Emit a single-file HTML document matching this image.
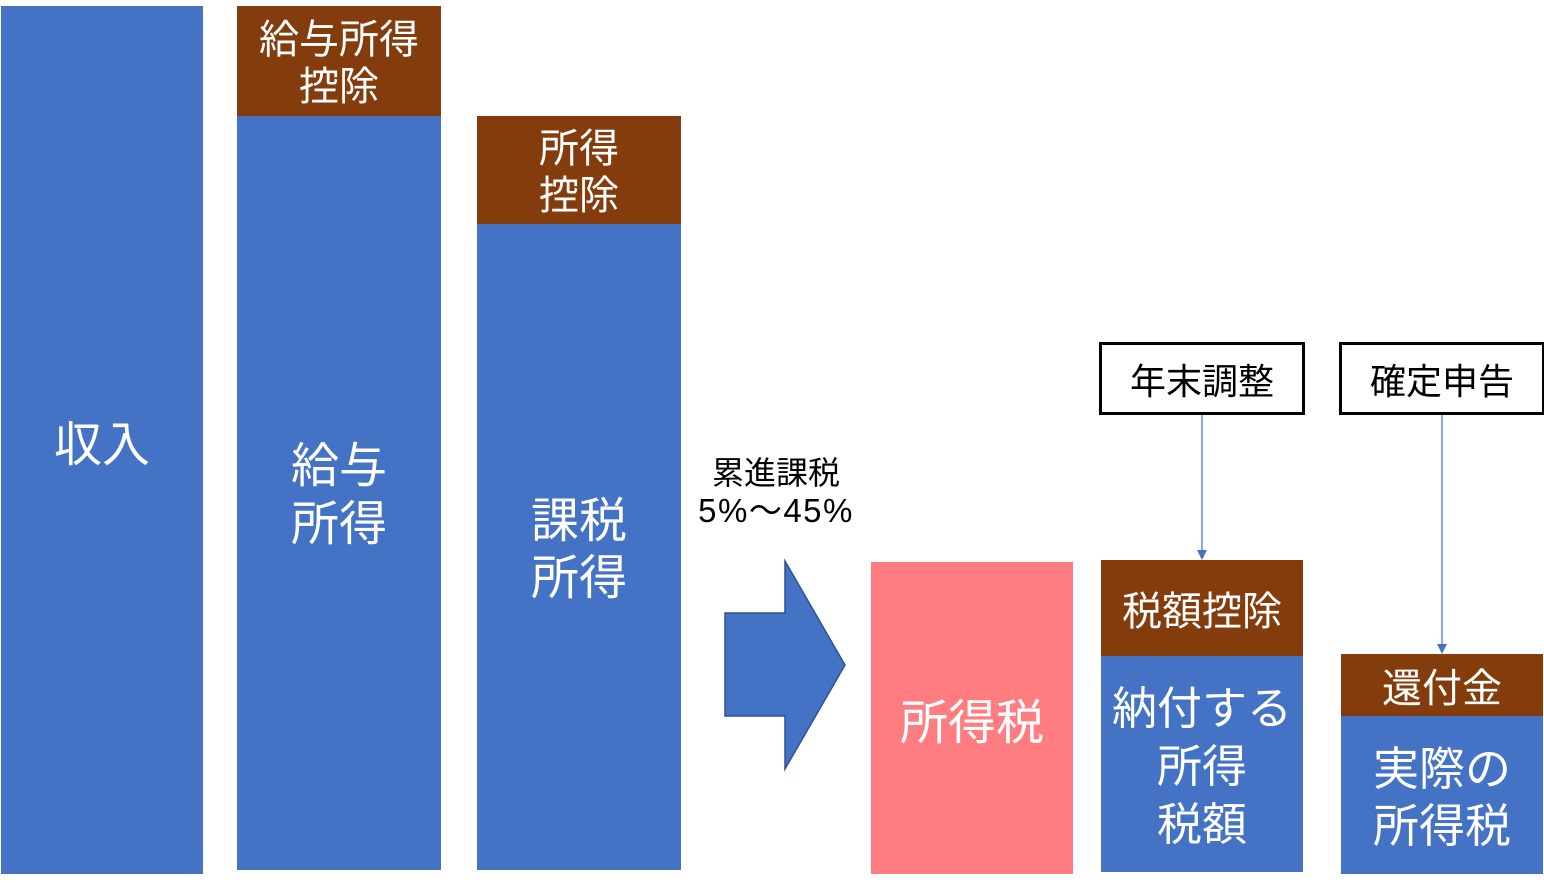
<!DOCTYPE html>
<html><head><meta charset="utf-8">
<style>
html,body{margin:0;padding:0;background:#fff;}
body{width:1544px;height:884px;position:relative;overflow:hidden;font-family:"Liberation Sans","Noto Sans CJK JP",sans-serif;}
.b{position:absolute;display:flex;align-items:center;justify-content:center;text-align:center;color:#fff;box-sizing:border-box;}
.m{padding-top:6px;}
.blue{background:#4472C4;}
.brown{background:#843C0C;}
.pink{background:#FF7C80;}
.box{position:absolute;box-sizing:border-box;border:3.5px solid #000;background:#fff;display:flex;align-items:center;justify-content:center;color:#000;font-size:36px;}
</style></head><body>
<div class="b blue" style="left:1px;top:6px;width:202px;height:868px;font-size:48px;">収入</div>

<div class="b brown m" style="left:237px;top:6px;width:204px;height:110px;font-size:40px;line-height:47px;">給与所得<br>控除</div>
<div class="b blue m" style="left:237px;top:116px;width:204px;height:754px;font-size:48px;line-height:58px;">給与<br>所得</div>

<div class="b brown m" style="left:477px;top:116px;width:204px;height:108px;font-size:40px;line-height:47px;">所得<br>控除</div>
<div class="b blue m" style="left:477px;top:224px;width:204px;height:646px;font-size:48px;line-height:57px;">課税<br>所得</div>

<div style="position:absolute;left:676px;top:454px;width:200px;text-align:center;color:#000;font-size:32px;line-height:38px;">累進課税<br><span style="font-size:33px;letter-spacing:1.5px;">5%～45%</span></div>

<svg style="position:absolute;left:0;top:0;" width="1544" height="884">
<polygon points="725,613 785,613 785,561 845,665 785,769 785,716 725,716" fill="#4472C4" stroke="#2F528F" stroke-width="1.5"/>
<line x1="1202" y1="415" x2="1202" y2="551" stroke="#8FAADC" stroke-width="2"/>
<polygon points="1197,550 1207,550 1202,560" fill="#4472C4"/>
<line x1="1442" y1="415" x2="1442" y2="645" stroke="#8FAADC" stroke-width="2"/>
<polygon points="1437,644 1447,644 1442,654" fill="#4472C4"/>
</svg>

<div class="b pink" style="left:871px;top:562px;width:202px;height:312px;font-size:48px;">所得税</div>

<div class="box" style="left:1099px;top:342px;width:206px;height:73px;">年末調整</div>
<div class="box" style="left:1339px;top:342px;width:206px;height:73px;">確定申告</div>

<div class="b brown" style="left:1101px;top:560px;width:202px;height:96px;font-size:40px;">税額控除</div>
<div class="b blue m" style="left:1101px;top:656px;width:202px;height:216px;font-size:45px;line-height:58px;">納付する<br>所得<br>税額</div>

<div class="b brown" style="left:1341px;top:654px;width:202px;height:62px;font-size:40px;">還付金</div>
<div class="b blue m" style="left:1341px;top:716px;width:202px;height:158px;font-size:46px;line-height:57px;">実際の<br>所得税</div>
</body></html>
